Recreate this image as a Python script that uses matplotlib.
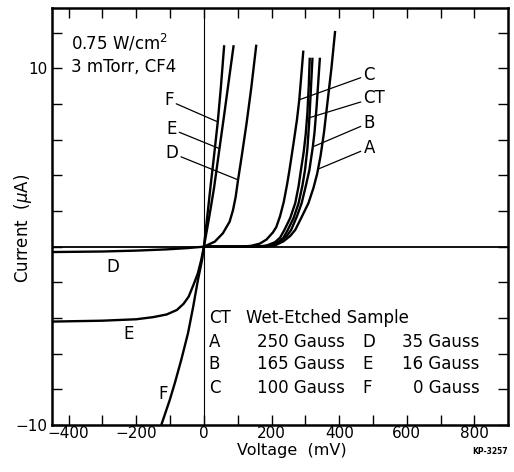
import matplotlib
matplotlib.use("Agg")
import matplotlib.pyplot as plt
from matplotlib.ticker import FixedLocator, FuncFormatter

# ---------------- data ----------------
# Voltage in mV, current in microampere
F_v = [-126, -101, -86, -67, -47, -32, -18, -5, 0, 10, 20, 30, 41, 50, 60]
F_i = [-10.0, -8.6, -7.65, -6.35, -4.85, -3.4, -1.9, -0.7, 0, 1.7, 3.45, 5.1, 7.0, 8.9, 11.3]

E_v = [-450, -300, -200, -150, -110, -80, -60, -45, -30, -18, -8, 0, 10, 20, 30, 46, 60, 75, 88]
E_i = [-4.2, -4.15, -4.07, -3.95, -3.8, -3.55, -3.2, -2.8, -2.1, -1.5, -0.75, 0, 1.05, 2.15, 3.3, 5.5, 7.4, 9.5, 11.3]

D_v = [-450, -300, -200, -110, -50, -20, 0, 32, 56, 76, 86, 94, 101, 112, 126, 140, 155]
D_i = [-0.3, -0.27, -0.22, -0.15, -0.08, -0.03, 0, 0.28, 0.75, 1.4, 2.05, 2.8, 3.75, 5.1, 6.9, 8.9, 11.33]

C_v = [0, 110, 140, 165, 185, 204, 214, 225, 236, 246, 253, 265, 275, 282, 288, 294]
C_i = [0, 0.0, 0.05, 0.17, 0.4, 0.8, 1.1, 1.7, 2.5, 3.5, 4.3, 5.8, 7.1, 8.24, 9.6, 11.0]

CT_v = [0, 150, 185, 210, 225, 238, 255, 270, 280, 287, 295, 301, 306, 310, 313]
CT_i = [0, 0.0, 0.06, 0.25, 0.5, 0.94, 1.6, 2.44, 3.4, 4.31, 5.3, 6.3, 7.5, 9.0, 10.6]

CT2_v = [0, 160, 195, 220, 235, 248, 265, 280, 291, 299, 306, 311, 316, 321]
CT2_i = [0, 0.0, 0.06, 0.25, 0.5, 0.94, 1.6, 2.44, 3.4, 4.31, 5.5, 6.9, 8.7, 10.6]

B_v = [0, 165, 200, 225, 245, 258, 275, 289, 300, 312, 322, 327, 333, 338, 343]
B_i = [0, 0.0, 0.07, 0.3, 0.6, 0.94, 1.7, 2.44, 3.3, 4.31, 5.6, 6.4, 7.8, 9.2, 10.6]

A_v = [0, 175, 210, 235, 255, 270, 290, 309, 324, 335, 345, 355, 366, 377, 388]
A_i = [0, 0.0, 0.07, 0.3, 0.6, 0.94, 1.7, 2.44, 3.3, 4.1, 5.1, 6.4, 8.2, 10.0, 12.1]

x_ticks = [-400, -300, -200, -100, 0, 100, 200, 300, 400, 500, 600, 700, 800]
x_labels = [-400, -200, 0, 200, 400, 600, 800]
y_ticks = [-10, -8, -6, -4, -2, 0, 2, 4, 6, 8, 10, 12]
y_labels = [-10, 10]

legend_rows = [
    ("CT", "Wet-Etched Sample", "", ""),
    ("A", "250 Gauss", "D", "35 Gauss"),
    ("B", "165 Gauss", "E", "16 Gauss"),
    ("C", "100 Gauss", "F", "0 Gauss"),
]

# ---------------- figure ----------------
plt.rcParams['font.family'] = ['DejaVu Sans']
W, H = 514, 472
fig = plt.figure(figsize=(W / 100, H / 100), dpi=100)
ax = fig.add_axes([51.7 / W, 1 - 425 / H, (508.3 - 51.7) / W, (425 - 8.3) / H])
ax.set_xlim(-450, 900)
ax.set_ylim(-10, 13.37)

ax.axhline(0, color='black', lw=1.3, zorder=1)
ax.axvline(0, color='black', lw=0.8, zorder=1)

lw = 1.7
for v, i in [(F_v, F_i), (E_v, E_i), (D_v, D_i), (C_v, C_i), (CT_v, CT_i),
             (CT2_v, CT2_i), (B_v, B_i), (A_v, A_i)]:
    ax.plot(v, i, color='black', lw=lw, solid_capstyle='butt', solid_joinstyle='round', zorder=2)

fs = 12
# left-curve labels with leader lines
lead = dict(arrowprops=dict(arrowstyle='-', color='black', lw=0.9, shrinkA=0, shrinkB=0),
            fontsize=fs, va='center', ha='right')
ax.annotate("F", xy=(41, 7.0), xytext=(-90, 8.2), **lead)
ax.annotate("E", xy=(46, 5.5), xytext=(-81, 6.6), **lead)
ax.annotate("D", xy=(101, 3.75), xytext=(-76, 5.25), **lead)
lead_r = dict(arrowprops=dict(arrowstyle='-', color='black', lw=0.9, shrinkA=0, shrinkB=0),
              fontsize=fs, va='center', ha='left')
ax.annotate("C", xy=(282, 8.24), xytext=(472, 9.65), **lead_r)
ax.annotate("CT", xy=(306, 7.2), xytext=(472, 8.35), **lead_r)
ax.annotate("B", xy=(322, 5.6), xytext=(472, 6.95), **lead_r)
ax.annotate("A", xy=(337.5, 4.35), xytext=(472, 5.55), **lead_r)

# third-quadrant labels
ax.text(-268, -1.12, "D", fontsize=fs, ha='center', va='center')
ax.text(-224, -4.87, "E", fontsize=fs, ha='center', va='center')
ax.text(-121, -8.24, "F", fontsize=fs, ha='center', va='center')

# conditions
ax.text(-392, 11.45, "0.75 W/cm$^2$", fontsize=fs, ha='left', va='center')
ax.text(-392, 10.1, "3 mTorr, CF4", fontsize=fs, ha='left', va='center')

# legend block
row_y = [-4.02, -5.34, -6.58, -7.9]
for (k1, t1, k2, t2), yy in zip(legend_rows, row_y):
    ax.text(14, yy, k1, fontsize=fs, ha='left', va='center')
    if k2 == "":
        ax.text(125, yy, t1, fontsize=fs, ha='left', va='center')
    else:
        ax.text(418, yy, t1, fontsize=fs, ha='right', va='center')
        ax.text(468, yy, k2, fontsize=fs, ha='left', va='center')
        ax.text(815, yy, t2, fontsize=fs, ha='right', va='center')

# ticks
ax.xaxis.set_major_locator(FixedLocator(x_ticks))
ax.xaxis.set_major_formatter(FuncFormatter(lambda v, p: f"{int(round(v))}".replace('-', '\u2212') if int(round(v)) in x_labels else ""))
ax.yaxis.set_major_locator(FixedLocator(y_ticks))
ax.yaxis.set_major_formatter(FuncFormatter(lambda v, p: f"{int(round(v))}".replace('-', '\u2212') if int(round(v)) in y_labels else ""))
ax.tick_params(direction='in', length=7, width=1.0, top=True, right=True,
               labelsize=11, color='black')
ax.tick_params(axis='x', pad=1)
ax.tick_params(axis='y', pad=3)
for s in ax.spines.values():
    s.set_linewidth(1.8)

fig.text(291.7 / W, 1 - 451 / H, "Voltage  (mV)", fontsize=11.5, ha='center', va='center')
fig.text(23 / W, 1 - 228 / H, "Current  ($\\mu$A)", fontsize=fs, ha='center', va='center', rotation=90)
fig.text(490 / W, 1 - 452 / H, "KP-3257", fontsize=5.5, fontweight='bold', ha='center', va='center')

fig.savefig("out.png", dpi=100)
